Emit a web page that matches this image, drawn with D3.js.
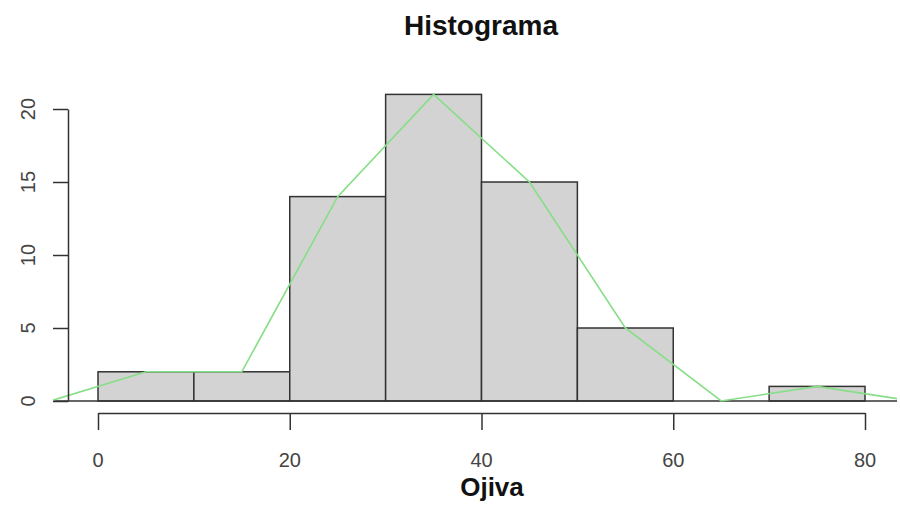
<!DOCTYPE html>
<html lang="en">
    <head>
        <meta charset="utf-8">
        <title>Histograma</title>
        <script type="text/javascript" src="https://d3js.org/d3.v7.min.js"></script>
        <style>
            body { margin: 0; background: white; }
            text { font-family: "Liberation Sans", Arial, sans-serif; }
            .tickLabel { fill: #444; font-size: 20px; }
            .title { font-weight: bold; font-size: 28px; fill: #111; }
            .xTitle { font-weight: bold; font-size: 26px; fill: #111; }
            .bar { fill: #d3d3d3; stroke: #333; stroke-width: 1.5; }
            .ojiva { fill: none; stroke: #86de86; stroke-width: 1.6; }
        </style>
    </head>
    <body>
        <div id="svgContainer"></div>
        <script type="text/javascript">
            //histogram data
            let breaks = [0, 10, 20, 30, 40, 50, 60, 70, 80];
            let counts = [2, 2, 14, 21, 15, 5, 0, 1];
            //frequency polygon (class midpoints, padded with an empty class at each end)
            let mids = [-5, 5, 15, 25, 35, 45, 55, 65, 75, 85];
            let freqs = [0, 2, 2, 14, 21, 15, 5, 0, 1, 0];
            let xTicks = [0, 20, 40, 60, 80];
            let yTicks = [0, 5, 10, 15, 20];

            let w = 900, h = 524;
            let plotLeft = 53, plotRight = 897;

            let xScale = d3.scaleLinear().domain([0, 80]).range([98, 865]);
            let yScale = d3.scaleLinear().domain([0, 20]).range([401, 109]);

            let svg = d3.select("#svgContainer")
                        .append("svg")
                        .attr("width", w)
                        .attr("height", h);

            svg.append("defs").append("clipPath")
                .attr("id", "plotClip")
                .append("rect")
                .attr("x", plotLeft)
                .attr("y", 60)
                .attr("width", plotRight - plotLeft)
                .attr("height", 360);

            //bars
            let bins = counts.map((c, i) => ({x0: breaks[i], x1: breaks[i + 1], n: c}));
            svg.selectAll(".bar")
                .data(bins)
                .enter()
                .append("rect")
                .attr("class", "bar")
                .attr("x", d => xScale(d.x0))
                .attr("y", d => yScale(d.n))
                .attr("width", d => xScale(d.x1) - xScale(d.x0))
                .attr("height", d => yScale(0) - yScale(d.n));

            //baseline across the plot
            svg.append("line")
                .attr("x1", plotLeft)
                .attr("x2", plotRight)
                .attr("y1", yScale(0))
                .attr("y2", yScale(0))
                .attr("stroke", "#333")
                .attr("stroke-width", 1.5);

            //ojiva line
            let line = d3.line()
                        .x((d, i) => xScale(mids[i]))
                        .y(d => yScale(d));
            svg.append("path")
                .datum(freqs)
                .attr("class", "ojiva")
                .attr("clip-path", "url(#plotClip)")
                .attr("d", line);

            //x axis
            let xAxisG = svg.append("g")
                .attr("transform", "translate(0, 413)")
                .call(d3.axisBottom(xScale).tickValues(xTicks).tickSize(17).tickSizeOuter(0).tickFormat(""));
            xAxisG.selectAll("path, line").attr("stroke", "#333").attr("stroke-width", 1.5);

            svg.selectAll(".xLabel")
                .data(xTicks)
                .enter()
                .append("text")
                .attr("class", "tickLabel")
                .attr("x", d => xScale(d))
                .attr("y", 467)
                .attr("text-anchor", "middle")
                .text(d => d);

            //y axis
            let yAxisG = svg.append("g")
                .attr("transform", "translate(68, 0)")
                .call(d3.axisLeft(yScale).tickValues(yTicks).tickSize(15).tickSizeOuter(0).tickFormat(""));
            yAxisG.selectAll("path, line").attr("stroke", "#333").attr("stroke-width", 1.5);

            svg.selectAll(".yLabel")
                .data(yTicks)
                .enter()
                .append("text")
                .attr("class", "tickLabel")
                .attr("text-anchor", "middle")
                .attr("transform", d => `translate(35, ${yScale(d)}) rotate(-90)`)
                .text(d => d);

            //titles
            svg.append("text")
                .attr("class", "title")
                .attr("x", 481)
                .attr("y", 35)
                .attr("text-anchor", "middle")
                .text("Histograma");

            svg.append("text")
                .attr("class", "xTitle")
                .attr("x", 492)
                .attr("y", 496)
                .attr("text-anchor", "middle")
                .text("Ojiva");
        </script>
    </body>
</html>
